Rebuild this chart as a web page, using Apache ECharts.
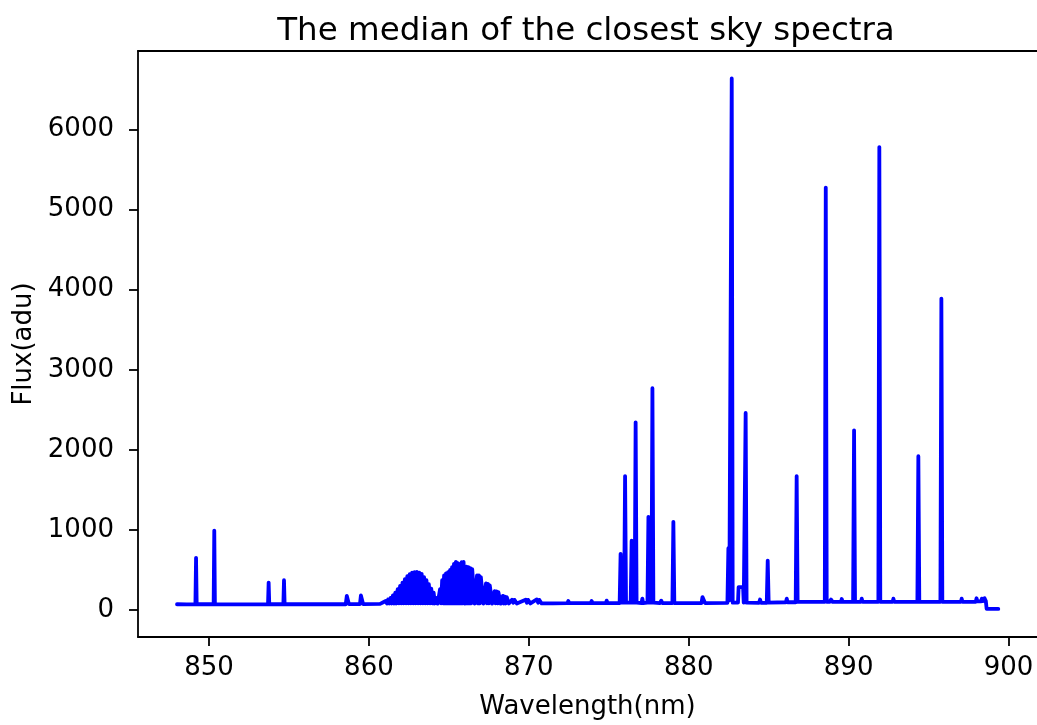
<!DOCTYPE html>
<html>
<head>
<meta charset="utf-8">
<title>The median of the closest sky spectra</title>
<script src="https://cdn.jsdelivr.net/npm/echarts@6/dist/echarts.min.js"></script>
<style>
  html, body { margin: 0; padding: 0; background: #fff; overflow: hidden; }
  #chart { width: 1037px; height: 725px; }
</style>
</head>
<body>
<div id="chart"></div>
<script>
// Median sky spectrum: wavelength (nm) and flux (adu) samples
const wavelength = [
  848.00, 848.60, 849.15, 849.19, 849.23, 850.29, 850.33, 850.37, 851.50, 853.69,
  853.73, 853.77, 854.65, 854.69, 854.73, 856.50, 858.55, 858.62, 858.68, 858.75,
  859.44, 859.50, 859.58, 859.64, 860.70, 860.82,
  // first OH band
  860.90, 860.975, 861.05, 861.125, 861.20, 861.275, 861.35, 861.425, 861.50, 861.575,
  861.65, 861.725, 861.80, 861.875, 861.95, 862.025, 862.10, 862.175, 862.25, 862.325,
  862.40, 862.475, 862.55, 862.625, 862.70, 862.775, 862.85, 862.925, 863.00, 863.075,
  863.15, 863.225, 863.30, 863.375, 863.45, 863.525, 863.60, 863.675, 863.75, 863.825,
  863.90, 863.975, 864.05, 864.125, 864.20, 864.30,
  // second OH band
  864.45, 864.515, 864.58, 864.64, 864.70, 864.76, 864.82, 864.885, 864.95, 865.015,
  865.08, 865.14, 865.20, 865.26, 865.32, 865.38, 865.44, 865.50, 865.56, 865.62,
  865.68, 865.74, 865.80, 865.86, 865.92, 866.01, 866.10, 866.16, 866.22, 866.28,
  866.34, 866.40, 866.46, 866.61, 866.76, 866.82, 866.88, 866.94, 867.00, 867.16,
  867.32, 867.38, 867.44, 867.50, 867.56, 867.71, 867.86, 867.92, 867.98, 868.04,
  868.10, 868.24, 868.38, 868.44, 868.50, 868.56, 868.62, 868.75, 868.95, 869.03,
  869.10, 869.25, 869.80, 869.88, 869.95, 870.10, 870.50, 870.58, 870.65, 870.80,
  // continuum and strong emission lines
  871.50, 872.42, 872.47, 872.52, 873.88, 873.93, 873.98, 874.82, 874.87, 874.92,
  875.68, 875.74, 875.80, 875.96, 876.02, 876.08, 876.37, 876.43, 876.49, 876.62,
  876.68, 876.74, 877.05, 877.10, 877.15, 877.42, 877.48, 877.54, 877.67, 877.73,
  877.79, 878.20, 878.28, 878.36, 878.98, 879.04, 879.10, 880.80, 880.86, 880.96,
  881.02, 882.42, 882.48, 882.54, 882.63, 882.69, 882.75, 883.08, 883.12, 883.40,
  883.44, 883.50, 883.56, 883.62, 884.40, 884.46, 884.52, 884.88, 884.94, 885.00,
  886.08, 886.13, 886.18, 886.69, 886.75, 886.81, 888.51, 888.57, 888.63, 888.80,
  888.90, 889.00, 889.52, 889.57, 889.62, 890.28, 890.34, 890.40, 890.77, 890.82,
  890.87, 891.86, 891.92, 891.98, 892.75, 892.80, 892.85, 894.30, 894.36, 894.42,
  895.74, 895.80, 895.86, 897.02, 897.07, 897.12, 897.95, 898.00, 898.05, 898.28,
  898.33, 898.40, 898.50, 898.58, 898.63, 899.36
];

const flux = [
  70, 68, 70, 650, 70, 70, 990, 70, 68, 70,
  340, 70, 70, 370, 70, 70, 70, 175, 175, 72,
  72, 180, 180, 72, 75, 80,
  // first OH band
  95, 78, 110, 80, 130, 80, 150, 80, 180, 80,
  215, 80, 260, 80, 300, 80, 340, 80, 385, 80,
  420, 80, 445, 80, 465, 80, 470, 80, 475, 80,
  465, 80, 450, 80, 410, 80, 370, 80, 320, 80,
  265, 80, 215, 80, 150, 78,
  // second OH band
  260, 80, 370, 80, 430, 80, 455, 80, 470, 80,
  500, 80, 535, 80, 575, 80, 600, 80, 585, 80,
  570, 80, 595, 80, 600, 78, 540, 80, 535, 80,
  520, 80, 510, 78, 430, 80, 430, 80, 410, 78,
  330, 80, 325, 80, 305, 78, 235, 80, 230, 80,
  220, 78, 175, 80, 165, 80, 160, 80, 127, 90,
  125, 80, 127, 90, 125, 80, 130, 90, 125, 80,
  // continuum and strong emission lines
  82, 85, 110, 85, 85, 110, 85, 85, 115, 85,
  85, 700, 90, 90, 1672, 90, 90, 864, 90, 90,
  2343, 90, 85, 140, 85, 90, 1162, 90, 90, 2770,
  90, 85, 115, 85, 85, 1100, 85, 85, 160, 160,
  85, 88, 770, 120, 120, 6640, 90, 90, 285, 285,
  90, 90, 2460, 90, 88, 130, 88, 88, 615, 90,
  95, 140, 95, 95, 1672, 100, 100, 5277, 100, 100,
  130, 100, 100, 135, 100, 100, 2244, 100, 100, 140,
  100, 100, 5782, 100, 100, 140, 100, 100, 1920, 100,
  100, 3889, 100, 100, 140, 100, 100, 145, 105, 105,
  140, 110, 145, 110, 12, 12
];

const xTicks = [850, 860, 870, 880, 890, 900];
const yTicks = [0, 1000, 2000, 3000, 4000, 5000, 6000];

const spectrum = wavelength.map((w, i) => [w, flux[i]]);

const font = 'DejaVu Sans';
const plain = v => String(v);
const frame = { show: true, onZero: false, lineStyle: { color: '#000', width: 1.8 } };
const xRange = { min: 845.56, max: 901.78 };

const chart = echarts.init(document.getElementById('chart'), null, { renderer: 'canvas' });

chart.setOption({
  animation: false,
  backgroundColor: '#ffffff',
  title: {
    text: 'The median of the closest sky spectra',
    left: 581,
    top: 10,
    textAlign: 'center',
    textStyle: { fontFamily: font, fontSize: 32.5, fontWeight: 'normal', color: '#000' }
  },
  // the frame's right side lies just outside the visible page, so only
  // the left, top and bottom edges are drawn
  grid: { left: 138, top: 51, right: 0, bottom: 85, show: false, containLabel: false },
  xAxis: [{
    type: 'value',
    position: 'bottom',
    min: xRange.min, max: xRange.max,
    name: 'Wavelength(nm)',
    nameLocation: 'middle',
    nameGap: 57,
    nameTextStyle: { fontFamily: font, fontSize: 26, color: '#000' },
    axisLine: frame,
    axisTick: { show: true, inside: false, length: 9, customValues: xTicks,
      lineStyle: { color: '#000', width: 1.8 } },
    axisLabel: { customValues: xTicks, formatter: plain, margin: 18,
      fontFamily: font, fontSize: 26, color: '#000' },
    splitLine: { show: false }
  }, {
    type: 'value',
    position: 'top',
    min: xRange.min, max: xRange.max,
    axisLine: frame,
    axisTick: { show: false },
    axisLabel: { show: false },
    splitLine: { show: false }
  }],
  yAxis: {
    type: 'value',
    position: 'left',
    min: -339, max: 6983,
    name: 'Flux(adu)',
    nameLocation: 'middle',
    nameGap: 99,
    nameTextStyle: { fontFamily: font, fontSize: 26, color: '#000' },
    axisLine: frame,
    axisTick: { show: true, inside: false, length: 9, customValues: yTicks,
      lineStyle: { color: '#000', width: 1.8 } },
    axisLabel: { customValues: yTicks, formatter: plain, margin: 24,
      fontFamily: font, fontSize: 26, color: '#000' },
    splitLine: { show: false }
  },
  series: [{
    type: 'line',
    xAxisIndex: 0,
    yAxisIndex: 0,
    data: spectrum,
    showSymbol: false,
    symbol: 'none',
    lineStyle: { color: '#0000ff', width: 3.8, join: 'round', cap: 'round' }
  }]
});
</script>
</body>
</html>
